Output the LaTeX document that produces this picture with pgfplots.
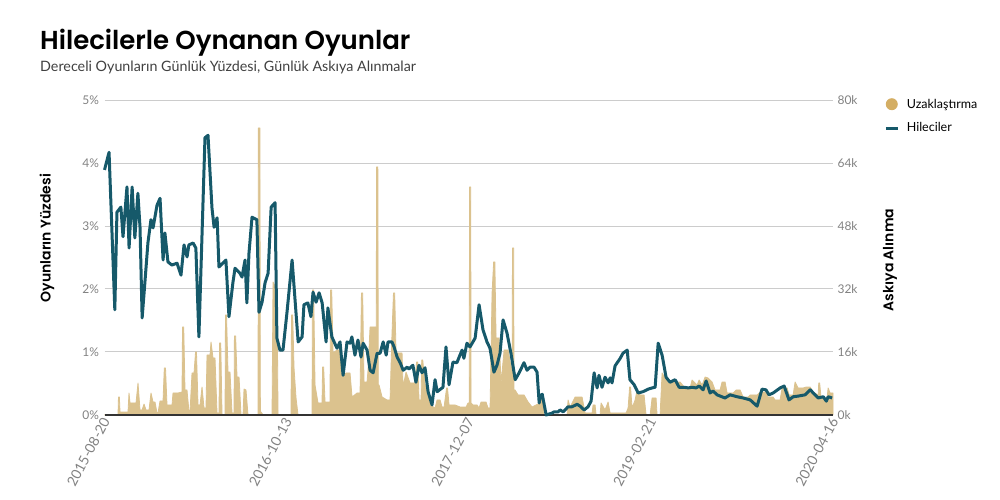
\documentclass[border=0pt]{standalone}
\usepackage{pgfplots}
\pgfplotsset{compat=1.18}
\usepackage{pgfplotstable}
\usepackage{fontspec}
\setmainfont{Lato}
\newfontfamily\titlefont{Poppins}[UprightFont=* SemiBold]
\definecolor{gold}{RGB}{219,194,142}
\definecolor{goldleg}{RGB}{212,174,100}
\definecolor{teal}{RGB}{22,89,106}
\definecolor{tickgray}{RGB}{130,130,130}
\definecolor{gridgray}{RGB}{204,204,204}

\pgfplotstableread{
w k
0 0
4.45 0
4.6 4.57
4.9 4.57
5.11 0.76
7.74 0.76
8.07 5.59
8.40 3.05
10.38 3.05
11.04 8.13
11.70 1.27
12.36 1.27
13.02 2.79
13.67 1.27
14.66 1.27
15.32 5.59
15.98 3.30
16.64 3.30
17.30 0.51
17.63 0.51
18.29 3.56
19.28 3.56
19.7 11.94
20.1 11.94
20.59 2.54
22.24 2.54
22.57 5.59
24.22 5.59
25.54 5.84
25.7 22.35
26.1 22.35
26.52 6.35
27.18 6.35
27.84 0.76
28.17 0.76
28.83 10.67
29.49 10.67
30.0 16.00
30.3 16.00
30.81 2.54
31.47 2.54
32.13 7.11
32.79 1.78
33.44 1.78
33.77 15.24
34.76 15.24
35.09 18.54
35.75 14.48
36.41 14.48
37.07 0.51
37.73 0.51
37.9 18.29
38.3 18.29
38.72 0
39.71 0
39.85 25.40
40.2 25.40
40.69 10.92
41.35 10.92
42.01 0.51
42.67 0.51
42.8 20.07
43.2 20.07
43.66 9.65
44.32 9.65
44.98 0
45.64 0
45.96 6.60
46.62 6.35
47.28 0
50.58 0
50.7 72.9
51.2 72.9
51.35 0.76
51.57 0.76
52.23 0
55.19 0
55.52 33.78
56.84 31.75
57.17 0
61.45 0
61.6 25.40
62.0 25.40
62.44 11.94
63.10 4.32
63.76 0
68.37 0
68.5 31.75
68.9 31.75
69.36 7.62
70.35 3.05
71.66 3.05
71.85 12.19
72.2 12.19
72.65 3.30
74.30 3.30
74.45 31.75
74.85 31.75
75.29 15.75
76.61 16.51
77.60 16.51
78.26 9.65
79.57 10.67
80.89 10.67
81.55 4.57
83.20 5.59
84.19 5.59
84.65 30.99
85.05 30.99
85.50 8.38
86.49 8.38
86.82 11.43
87.48 22.35
89.13 22.35
89.55 22.35
89.6 62.99
90.05 62.99
90.2 7.62
90.45 7.62
91.44 4.57
93.09 3.81
94.07 3.81
94.73 21.08
95.2 30.99
95.6 30.99
96.05 15.75
98.03 15.75
98.36 7.11
99.34 10.92
100.66 8.13
102.31 8.13
102.8 13.46
103.15 13.46
103.63 3.81
104.29 3.81
104.5 13.97
104.85 13.97
105.60 7.62
106.59 7.62
107.25 2.54
108.90 1.78
109.56 3.81
110.55 3.81
111.21 2.03
111.87 2.03
112.7 6.86
113.0 6.86
113.51 2.54
115.49 2.54
117.14 2.03
119.12 2.03
119.77 3.05
120.15 3.05
120.25 57.91
120.65 57.91
120.75 3.05
121.42 2.54
122.74 2.54
123.40 1.78
124.06 3.30
125.70 3.30
126.36 1.78
127.02 1.78
127.68 30.99
128.2 38.86
128.6 38.86
129.00 19.56
129.99 19.56
130.65 8.13
131.64 16.51
132.96 16.51
133.94 12.19
134.3 12.19
134.4 42.42
134.8 42.42
134.9 6.35
135.26 6.35
136.25 5.08
138.23 5.08
139.55 3.30
140.86 2.03
143.50 3.05
144.16 5.08
144.81 0
152.39 0
152.72 3.81
153.38 2.03
155.03 4.57
157.33 4.57
158.32 0.51
160.63 0.51
160.96 2.54
161.62 2.54
161.95 0
163.26 0
163.59 3.05
164.91 1.27
165.90 3.30
166.56 0.51
171.83 0.51
172.49 1.78
173.0 7.11
173.3 7.11
173.81 1.78
174.80 3.81
175.46 6.35
176.45 5.08
177.76 5.08
178.42 0
179.74 0
180.40 4.32
181.71 4.32
182.04 0
183.03 0
183.69 10.67
185.67 8.13
189.62 8.38
191.27 6.86
192.91 6.86
193.57 8.89
195.22 7.62
195.88 8.89
196.87 7.62
197.86 9.65
198.85 9.40
200.16 8.38
201.15 6.35
202.80 6.35
203.46 8.38
204.45 8.38
205.11 5.59
207.08 5.59
208.07 6.35
209.39 6.35
210.38 4.57
212.03 4.57
212.69 5.08
215.00 5.08
215.98 5.84
217.96 5.84
218.62 4.57
220.26 4.57
220.92 3.81
222.57 3.81
223.23 6.86
224.88 6.86
225.54 5.08
226.86 5.08
227.51 8.38
228.50 6.86
230.15 6.86
231.14 7.11
232.46 7.11
233.44 5.84
235.09 5.08
235.3 8.13
235.6 8.13
236.08 4.32
238.06 4.32
238.39 6.86
239.04 5.59
240 5.59
}\bans

\pgfplotstableread{
w p
0 3.89
1.5 4.17
3.4 1.67
4.1 3.22
5.4 3.30
6.1 2.83
7.4 3.62
8.1 2.65
9.1 3.62
10.0 2.81
11.0 3.52
11.7 2.98
12.4 1.54
13.3 2.10
14.3 2.73
15.3 3.10
16.0 2.97
17.3 3.33
18.3 3.44
19.3 2.46
19.9 2.89
20.9 2.43
22.2 2.38
23.9 2.41
25.2 2.22
26.2 2.70
27.2 2.51
27.8 2.70
29.2 2.73
30.1 2.65
31.1 1.24
33.1 4.40
34.1 4.44
35.4 3.29
36.1 2.98
37.1 3.13
37.7 2.35
40.0 2.46
41.0 1.56
42.3 2.10
43.0 2.33
44.6 2.25
45.3 2.19
46.3 2.46
46.9 1.78
47.6 2.57
48.6 3.14
50.2 3.10
50.9 1.63
51.9 1.79
52.9 2.10
53.9 2.25
54.9 3.30
56.2 3.37
56.8 1.22
57.8 1.03
58.8 1.03
60.1 1.62
61.8 2.46
63.8 1.16
65.1 1.24
65.7 1.75
67.0 1.78
68.0 1.56
68.7 1.95
69.7 1.79
70.7 1.94
71.7 1.78
73.0 1.16
73.6 1.70
74.9 1.24
76.6 1.06
77.6 1.16
78.6 0.63
79.9 1.16
80.9 1.14
81.5 1.24
82.5 0.95
83.5 1.19
84.5 0.92
85.2 1.14
86.5 1.03
87.5 0.71
88.5 0.67
89.8 0.98
90.8 0.98
91.8 1.16
92.8 0.95
93.4 1.16
94.7 1.16
95.4 1.08
96.4 0.92
97.4 0.83
98.4 0.71
99.7 0.76
100.3 0.73
101.6 0.79
102.6 0.52
103.6 0.79
104.6 0.67
105.6 0.75
106.6 0.37
107.9 0.16
108.9 0.56
109.6 0.37
111.5 0.44
112.5 1.08
113.5 0.48
114.8 0.84
116.1 0.83
117.1 0.95
117.8 1.03
118.4 0.90
119.4 1.14
120.4 1.08
122.1 1.22
123.4 1.75
124.7 1.35
126.0 1.16
127.0 1.06
128.3 0.68
129.3 0.79
130.3 0.98
131.3 1.51
132.6 1.30
133.9 0.98
135.3 0.56
136.6 0.67
138.2 0.83
139.2 0.71
140.2 0.76
141.5 0.76
142.5 0.68
143.2 0.19
143.5 0.29
144.2 0.33
145.5 0.0
147.4 0.03
148.1 0.05
149.4 0.05
150.1 0.08
151.1 0.05
152.7 0.13
154.0 0.13
155.7 0.17
156.7 0.14
158.0 0.08
159.3 0.13
160.3 0.22
161.3 0.67
162.3 0.43
162.9 0.63
163.9 0.44
164.9 0.60
165.9 0.51
166.6 0.59
167.2 0.51
168.2 0.78
169.9 0.90
170.8 0.98
172.2 1.03
173.1 0.56
174.5 0.48
175.8 0.35
177.4 0.37
179.1 0.41
180.4 0.43
181.4 0.44
182.4 1.14
183.7 0.95
185.0 0.60
186.3 0.52
188.0 0.56
189.3 0.44
190.9 0.44
192.3 0.43
193.6 0.44
194.9 0.43
195.9 0.46
197.2 0.40
198.2 0.54
199.5 0.35
200.5 0.38
201.8 0.32
204.4 0.27
206.1 0.32
208.4 0.29
210.4 0.27
212.7 0.24
215.0 0.14
216.6 0.41
217.9 0.40
218.9 0.32
220.3 0.35
222.6 0.43
223.9 0.46
225.5 0.24
226.9 0.29
228.5 0.30
230.8 0.32
232.5 0.40
234.1 0.32
235.1 0.27
236.8 0.29
237.8 0.22
238.4 0.29
239.7 0.27
}\cheaters

\begin{document}
\begin{tikzpicture}
\path[use as bounding box] (0pt,0pt) rectangle (1000pt,500pt);
\pgfplotsset{
  common/.style={
    at={(104.5pt,85pt)}, anchor=origin,
    scale only axis, width=728.5pt, height=315pt,
    xmin=0, xmax=240, ymin=0,
    major tick length=0pt,
    tick label style={font=\fontsize{12}{14}\selectfont, text=tickgray},
    /pgf/number format/assume math mode=true,
    clip=false,
  }
}
% right axis: suspensions (area)
\begin{axis}[common,
    ymax=80,
    axis x line=none,
    axis y line*=right,
    y axis line style={draw=none},
    ytick={0,16,32,48,64,80},
    yticklabel={\pgfmathprintnumber{\tick}k},
    yticklabel style={anchor=west, xshift=1pt},
    ymajorgrids, grid style={gridgray, line width=1pt},
]
\addplot[fill=gold, draw=gold, line width=0.8pt, line join=round] table[x=w,y=k]{\bans} \closedcycle;
\end{axis}
% left axis: cheaters (line)
\begin{axis}[common,
    ymax=5,
    axis x line*=bottom,
    axis y line*=left,
    y axis line style={draw=none},
    x axis line style={draw=black!80, line width=1.3pt},
    ytick={0,1,2,3,4,5},
    yticklabel={\pgfmathprintnumber{\tick}\%},
    yticklabel style={anchor=east, xshift=-2pt},
    xtick={0,60,120,180,240},
    xticklabels={2015-08-20,2016-10-13,2017-12-07,2019-02-21,2020-04-16},
    xticklabel style={rotate=62, anchor=east, xshift=1pt, yshift=-3pt, font=\fontsize{14}{16}\selectfont},
    legend style={at={(1.066,1.017)}, anchor=north west, draw=none, fill=none,
      font=\fontsize{12.5}{15}\selectfont, row sep=9pt,
      legend cell align=left},
]
\addlegendimage{legend image code/.code={\fill[goldleg, draw=none] (6pt,0pt) circle (6pt); \path[draw=none, fill=none] (0pt,0pt) (19pt,0pt);}}
\addlegendentry{Uzaklaştırma}
\addplot[teal, line width=3pt, line join=round,
  legend image code/.code={\draw[teal, line width=3pt] (0pt,-1pt) -- (12pt,-1pt); \path[draw=none, fill=none] (0pt,0pt) (19pt,0pt);}]
  table[x=w,y=p]{\cheaters};
\addlegendentry{Hileciler}
\end{axis}
\node[anchor=base west, inner sep=0pt, font=\titlefont\fontsize{26}{30}\selectfont] at (40pt,450pt) {Hilecilerle Oynanan Oyunlar};
\node[anchor=base west, inner sep=0pt, font=\fontsize{14.3}{17}\selectfont, text=black!75] at (40pt,428pt) {Dereceli Oyunların Günlük Yüzdesi, Günlük Askıya Alınmalar};
\node[rotate=90, font=\titlefont\fontsize{14}{16}\selectfont] at (47pt,262pt) {Oyunların Yüzdesi};
\node[rotate=90, font=\titlefont\fontsize{14}{16}\selectfont] at (890pt,240pt) {Askıya Alınma};
\end{tikzpicture}
\end{document}
